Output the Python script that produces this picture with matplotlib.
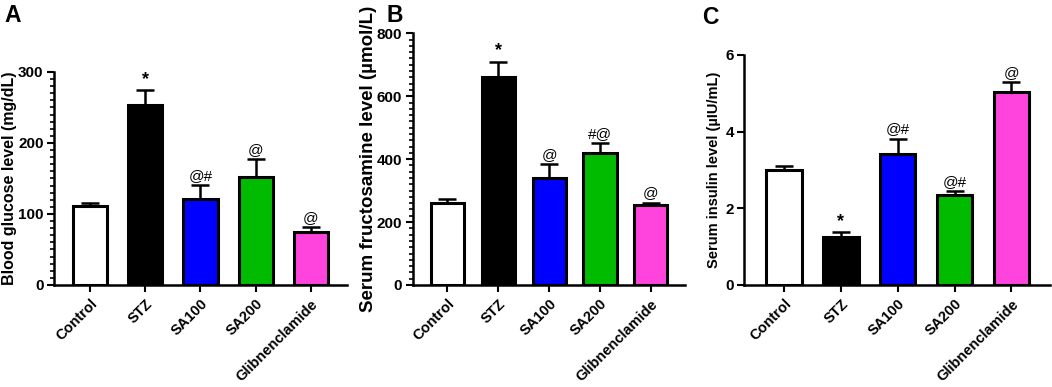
import numpy as np
import matplotlib.pyplot as plt
from matplotlib.ticker import MultipleLocator

plt.rcParams['font.family'] = ['Liberation Sans', 'DejaVu Sans']
plt.rcParams['font.weight'] = 'bold'

groups = ["Control", "STZ", "SA100", "SA200", "Glibnenclamide"]
colors = ["#ffffff", "#000000", "#0000ff", "#00bb00", "#ff44dd"]

glucose = [111, 253, 121, 152, 74]
glucose_err = [5, 21, 20, 26, 7]
glucose_marks = ["", "*", "@#", "@", "@"]

fructosamine = [262, 660, 340, 419, 253]
fructosamine_err = [11, 50, 44, 31, 9]
fructosamine_marks = ["", "*", "@", "#@", "@"]

insulin = [3.0, 1.25, 3.41, 2.35, 5.04]
insulin_err = [0.11, 0.13, 0.41, 0.10, 0.25]
insulin_marks = ["", "*", "@#", "@#", "@"]

fig = plt.figure(figsize=(10.52, 3.87), dpi=100)

panels = [
    # rect, values, errors, marks, ymax, major, minor, ylabel, label size, labelpad, xlim, width
    ([0.0513, 0.2636, 0.2785, 0.5504], glucose, glucose_err, glucose_marks,
     300, 100, 10, "Blood glucose level (mg/dL)", 11.5, 0.5, (-0.65, 4.65), 0.62),
    ([0.3923, 0.2636, 0.2588, 0.6504], fructosamine, fructosamine_err, fructosamine_marks,
     800, 200, 20, "Serum fructosamine level (\u00b5mol/L)", 13.5, 0.0, (-0.68, 4.67), 0.65),
    ([0.7075, 0.2636, 0.2906, 0.5943], insulin, insulin_err, insulin_marks,
     6, 2, None, "Serum insulin level (\u00b5IU/mL)", 10.5, 3.0, (-0.70, 4.68), 0.62),
]

x = np.arange(len(groups))
for rect, vals, errs, marks, ymax, major, minor, ylabel, lsize, lpad, xlim, width in panels:
    ax = fig.add_axes(rect)
    ax.bar(x, vals, width=width, color=colors, edgecolor="black", linewidth=2.2, zorder=3)
    ax.errorbar(x, vals, yerr=[np.zeros(len(errs)), errs], fmt="none", ecolor="black",
                elinewidth=1.8, capsize=6.5, capthick=1.8, zorder=2)
    for xi, v, e, m in zip(x, vals, errs, marks):
        if m == "*":
            ax.annotate(m, (xi, v + e), xytext=(0, 1.5), textcoords="offset points",
                        ha="center", va="bottom", fontsize=13, fontweight="bold")
        elif m:
            ax.annotate(m, (xi, v + e), xytext=(0, 1.5), textcoords="offset points",
                        ha="center", va="bottom", fontsize=11, fontweight="normal")
    ax.set_xlim(*xlim)
    ax.set_ylim(0, ymax)
    ax.yaxis.set_major_locator(MultipleLocator(major))
    if minor:
        ax.yaxis.set_minor_locator(MultipleLocator(minor))
    ax.set_xticks(x)
    ax.set_xticklabels(groups, rotation=45, ha="right", rotation_mode="anchor",
                       fontsize=10.5, fontweight="bold")
    ax.tick_params(axis="y", labelsize=11, width=1.5, length=5, pad=2.5)
    ax.tick_params(axis="y", which="minor", width=1.2, length=3)
    ax.tick_params(axis="x", width=1.5, length=5)
    for lab in ax.get_yticklabels():
        lab.set_fontweight("bold")
    ax.set_ylabel(ylabel, fontsize=lsize, fontweight="bold", labelpad=lpad)
    for s in ["top", "right"]:
        ax.spines[s].set_visible(False)
    for s in ["left", "bottom"]:
        ax.spines[s].set_linewidth(1.8)

fig.text(0.004, 0.99, "A", fontsize=16.5, fontweight="bold", va="top")
fig.text(0.367, 0.99, "B", fontsize=16.5, fontweight="bold", va="top")
fig.text(0.667, 0.985, "C", fontsize=16.5, fontweight="bold", va="top")

fig.savefig("out.png", dpi=100)
